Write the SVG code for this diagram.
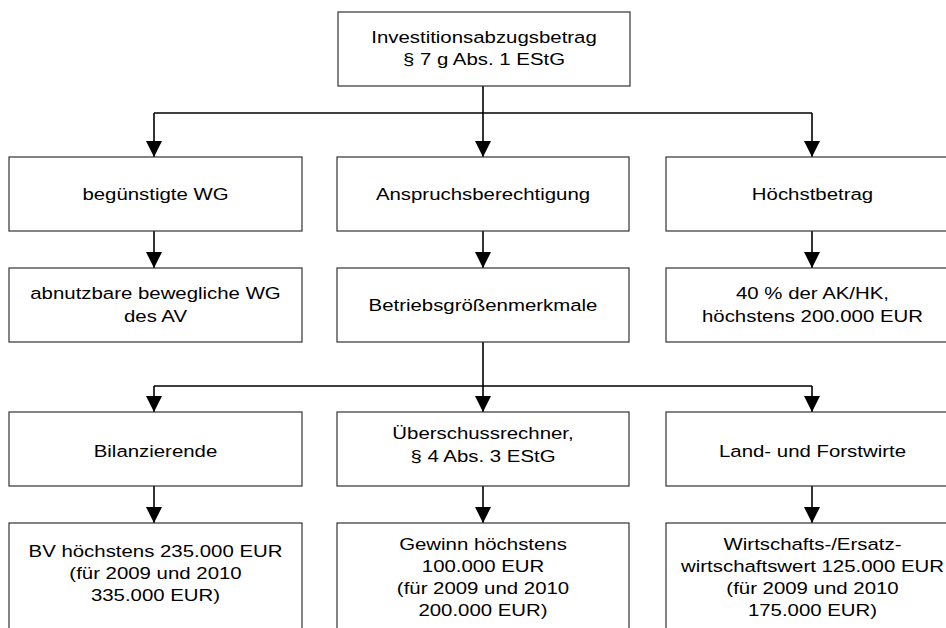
<svg xmlns="http://www.w3.org/2000/svg" width="946" height="628" viewBox="0 0 946 628">
<style>
.box{fill:#fff;stroke:#333;stroke-width:1.2}
.t{font-family:"Liberation Sans",Arial,sans-serif;font-size:17px;fill:#000;text-anchor:middle}
.c{fill:none;stroke:#000;stroke-width:1.6}
</style>
<defs>
<marker id="ah" markerUnits="userSpaceOnUse" markerWidth="16" markerHeight="16" viewBox="0 0 16 16" refX="16" refY="8" orient="auto">
<path d="M0,0 L16,8 L0,16 z" fill="#000"/>
</marker>
</defs>
<rect width="946" height="628" fill="#fff"/>
<g id="connectors">
<path class="c" d="M483,86 V113"/>
<path class="c" d="M154,113 H812"/>
<path class="c" d="M154,113 V157" marker-end="url(#ah)"/>
<path class="c" d="M483,113 V157" marker-end="url(#ah)"/>
<path class="c" d="M812,113 V157" marker-end="url(#ah)"/>
<path class="c" d="M154,231 V268" marker-end="url(#ah)"/>
<path class="c" d="M483,231 V268" marker-end="url(#ah)"/>
<path class="c" d="M812,231 V268" marker-end="url(#ah)"/>
<path class="c" d="M483,341 V386"/>
<path class="c" d="M154,386 H812"/>
<path class="c" d="M154,386 V412" marker-end="url(#ah)"/>
<path class="c" d="M483,386 V412" marker-end="url(#ah)"/>
<path class="c" d="M812,386 V412" marker-end="url(#ah)"/>
<path class="c" d="M154,486 V523" marker-end="url(#ah)"/>
<path class="c" d="M483,486 V523" marker-end="url(#ah)"/>
<path class="c" d="M812,486 V523" marker-end="url(#ah)"/>
</g>
<g id="n-top">
<rect class="box" x="338" y="12" width="292" height="74"/>
<g transform="translate(484 0) scale(1.2 1)"><text class="t" x="0" y="43">Investitionsabzugsbetrag</text><text class="t" x="0" y="65">§ 7 g Abs. 1 EStG</text></g>
</g>
<g id="n-wg">
<rect class="box" x="9" y="157" width="293" height="74"/>
<g transform="translate(155.5 0) scale(1.2 1)"><text class="t" x="0" y="200">begünstigte WG</text></g>
</g>
<g id="n-anspruch">
<rect class="box" x="337" y="157" width="292" height="74"/>
<g transform="translate(483 0) scale(1.2 1)"><text class="t" x="0" y="200">Anspruchsberechtigung</text></g>
</g>
<g id="n-hoechst">
<rect class="box" x="666" y="157" width="293" height="74"/>
<g transform="translate(812.5 0) scale(1.2 1)"><text class="t" x="0" y="200">Höchstbetrag</text></g>
</g>
<g id="n-abnutz">
<rect class="box" x="9" y="268" width="293" height="74"/>
<g transform="translate(155.5 0) scale(1.2 1)"><text class="t" x="0" y="299">abnutzbare bewegliche WG</text><text class="t" x="0" y="322">des AV</text></g>
</g>
<g id="n-betrieb">
<rect class="box" x="337" y="268" width="292" height="74"/>
<g transform="translate(483 0) scale(1.2 1)"><text class="t" x="0" y="311">Betriebsgrößenmerkmale</text></g>
</g>
<g id="n-40">
<rect class="box" x="666" y="268" width="293" height="74"/>
<g transform="translate(812.5 0) scale(1.2 1)"><text class="t" x="0" y="299">40 % der AK/HK,</text><text class="t" x="0" y="322">höchstens 200.000 EUR</text></g>
</g>
<g id="n-bilanz">
<rect class="box" x="9" y="412" width="293" height="74"/>
<g transform="translate(155.5 0) scale(1.2 1)"><text class="t" x="0" y="457">Bilanzierende</text></g>
</g>
<g id="n-ueber">
<rect class="box" x="337" y="412" width="292" height="74"/>
<g transform="translate(483 0) scale(1.2 1)"><text class="t" x="0" y="439">Überschussrechner,</text><text class="t" x="0" y="462">§ 4 Abs. 3 EStG</text></g>
</g>
<g id="n-land">
<rect class="box" x="666" y="412" width="293" height="74"/>
<g transform="translate(812.5 0) scale(1.2 1)"><text class="t" x="0" y="457">Land- und Forstwirte</text></g>
</g>
<g id="n-bv">
<rect class="box" x="9" y="523" width="293" height="120"/>
<g transform="translate(155.5 0) scale(1.2 1)"><text class="t" x="0" y="557">BV höchstens 235.000 EUR</text><text class="t" x="0" y="579">(für 2009 und 2010</text><text class="t" x="0" y="601">335.000 EUR)</text></g>
</g>
<g id="n-gewinn">
<rect class="box" x="337" y="523" width="292" height="120"/>
<g transform="translate(483 0) scale(1.2 1)"><text class="t" x="0" y="550">Gewinn höchstens</text><text class="t" x="0" y="572">100.000 EUR</text><text class="t" x="0" y="594">(für 2009 und 2010</text><text class="t" x="0" y="616">200.000 EUR)</text></g>
</g>
<g id="n-wirt">
<rect class="box" x="666" y="523" width="293" height="120"/>
<g transform="translate(812.5 0) scale(1.2 1)"><text class="t" x="0" y="550">Wirtschafts-/Ersatz-</text><text class="t" x="0" y="572">wirtschaftswert 125.000 EUR</text><text class="t" x="0" y="594">(für 2009 und 2010</text><text class="t" x="0" y="616">175.000 EUR)</text></g>
</g>
</svg>
